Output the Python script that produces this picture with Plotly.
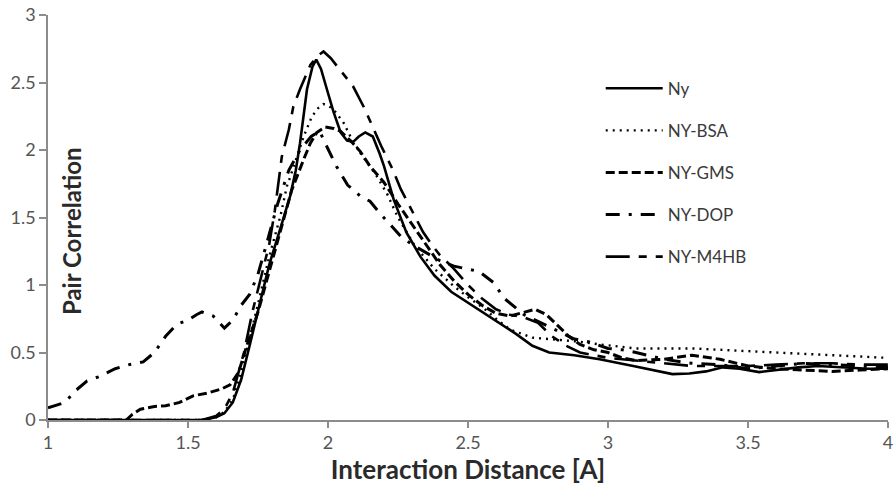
import plotly.graph_objects as go

# ---------------- data ----------------
ny_x = [1.0, 1.2, 1.4, 1.5, 1.55, 1.6, 1.63, 1.66, 1.69, 1.72, 1.76, 1.79, 1.83, 1.865, 1.885, 1.90,
        1.925, 1.945, 1.958, 1.975, 1.996, 2.02, 2.045, 2.068, 2.09, 2.11, 2.133, 2.16, 2.185, 2.20,
        2.235, 2.28, 2.33, 2.38, 2.44, 2.50, 2.55, 2.61, 2.67, 2.73, 2.79, 2.88, 2.97, 3.09, 3.16,
        3.23, 3.29, 3.35, 3.41, 3.47, 3.54, 3.6, 3.68, 3.75, 3.85, 3.93, 4.0]
ny_y = [0, 0, 0, 0, 0.0, 0.02, 0.05, 0.13, 0.30, 0.55, 0.88, 1.15, 1.42, 1.66, 1.85, 2.05,
        2.45, 2.62, 2.67, 2.60, 2.45, 2.28, 2.13, 2.07, 2.06, 2.10, 2.13, 2.10, 1.97, 1.88,
        1.63, 1.39, 1.21, 1.07, 0.95, 0.87, 0.80, 0.72, 0.64, 0.55, 0.50, 0.48, 0.45, 0.40, 0.37,
        0.34, 0.345, 0.36, 0.39, 0.38, 0.355, 0.37, 0.39, 0.40, 0.39, 0.38, 0.38]

bsa_x = [1.0, 1.2, 1.4, 1.55, 1.6, 1.63, 1.66, 1.69, 1.72, 1.764, 1.79, 1.83, 1.853, 1.865, 1.89,
         1.913, 1.943, 1.965, 1.984, 2.0, 2.02, 2.056, 2.08, 2.115, 2.17, 2.21, 2.25, 2.31, 2.38,
         2.45, 2.5, 2.555, 2.6, 2.65, 2.73, 2.83, 2.9, 2.97, 3.1, 3.2, 3.3, 3.4, 3.5, 3.6, 3.7,
         3.8, 3.9, 4.0]
bsa_y = [0, 0, 0, 0, 0.02, 0.06, 0.15, 0.35, 0.60, 0.97, 1.21, 1.51, 1.73, 1.80, 1.95,
         2.10, 2.25, 2.31, 2.34, 2.33, 2.30, 2.20, 2.10, 1.98, 1.82, 1.68, 1.50, 1.29, 1.12,
         0.99, 0.91, 0.83, 0.75, 0.67, 0.61, 0.59, 0.58, 0.56, 0.53, 0.53, 0.53, 0.52, 0.51, 0.50,
         0.49, 0.48, 0.47, 0.46]

gms_x = [1.0, 1.1, 1.2, 1.28, 1.30, 1.33, 1.38, 1.42, 1.47, 1.52, 1.57, 1.62, 1.65, 1.68, 1.71,
         1.75, 1.79, 1.83, 1.87, 1.913, 1.937, 1.96, 1.99, 2.02, 2.044, 2.08, 2.115, 2.15, 2.2,
         2.25, 2.3, 2.35, 2.4, 2.45, 2.5, 2.55, 2.6, 2.65, 2.7, 2.74, 2.78, 2.82, 2.86, 2.9, 2.95,
         3.0, 3.05, 3.1, 3.2, 3.3, 3.4, 3.5, 3.6, 3.7, 3.8, 3.9, 4.0]
gms_y = [0, 0, 0, 0, 0.04, 0.08, 0.10, 0.105, 0.13, 0.18, 0.20, 0.23, 0.26, 0.35, 0.55,
         0.80, 1.10, 1.40, 1.70, 1.93, 2.05, 2.13, 2.17, 2.16, 2.14, 2.07, 1.99, 1.88, 1.76,
         1.60, 1.45, 1.30, 1.15, 1.03, 0.93, 0.85, 0.79, 0.77, 0.80, 0.82, 0.78, 0.70, 0.62, 0.56, 0.52,
         0.50, 0.46, 0.44, 0.45, 0.48, 0.45, 0.40, 0.38, 0.37, 0.36, 0.37, 0.38]

dop_x = [1.0, 1.03, 1.06, 1.1, 1.14, 1.18, 1.24, 1.29, 1.34, 1.38, 1.42, 1.46, 1.50, 1.53, 1.55,
         1.59, 1.63, 1.66, 1.69, 1.72, 1.75, 1.78, 1.82, 1.86, 1.9, 1.94, 1.97, 1.99, 2.03, 2.07,
         2.115, 2.15, 2.19, 2.23, 2.26, 2.3, 2.35, 2.4, 2.45, 2.5, 2.54, 2.59, 2.63, 2.7, 2.76,
         2.82, 2.88, 2.93, 3.0, 3.05, 3.1, 3.2, 3.3, 3.4, 3.5, 3.6, 3.7, 3.8, 3.9, 4.0]
dop_y = [0.09, 0.11, 0.13, 0.22, 0.29, 0.32, 0.38, 0.41, 0.43, 0.50, 0.62, 0.71, 0.74, 0.78, 0.80,
         0.77, 0.68, 0.74, 0.85, 0.93, 1.08, 1.30, 1.60, 1.85, 2.00, 2.10, 2.14, 2.05, 1.88, 1.74,
         1.66, 1.62, 1.52, 1.43, 1.36, 1.30, 1.24, 1.18, 1.14, 1.12, 1.10, 1.02, 0.90, 0.78, 0.72,
         0.66, 0.60, 0.58, 0.53, 0.52, 0.50, 0.45, 0.42, 0.41, 0.38, 0.40, 0.42, 0.41, 0.40, 0.39]

m4hb_x = [1.0, 1.2, 1.4, 1.55, 1.6, 1.63, 1.66, 1.7, 1.73, 1.76, 1.79, 1.81, 1.82, 1.835, 1.86,
          1.876, 1.9, 1.937, 1.965, 1.984, 2.01, 2.044, 2.09, 2.13, 2.16, 2.19, 2.23, 2.26, 2.3,
          2.34, 2.37, 2.4, 2.45, 2.5, 2.55, 2.6, 2.65, 2.7, 2.75, 2.8, 2.85, 2.9, 3.0, 3.1, 3.2,
          3.3, 3.4, 3.5, 3.6, 3.7, 3.8, 3.9, 4.0]
m4hb_y = [0, 0, 0, 0, 0.03, 0.08, 0.20, 0.50, 0.80, 1.05, 1.30, 1.55, 1.70, 1.95, 2.15,
          2.32, 2.45, 2.63, 2.70, 2.73, 2.68, 2.59, 2.47, 2.31, 2.17, 2.03, 1.86, 1.71, 1.55,
          1.39, 1.30, 1.22, 1.12, 1.00, 0.90, 0.82, 0.78, 0.76, 0.72, 0.62, 0.55, 0.50, 0.46, 0.44, 0.42,
          0.40, 0.40, 0.40, 0.41, 0.42, 0.42, 0.41, 0.41]

series_names = ["Ny", "NY-BSA", "NY-GMS", "NY-DOP", "NY-M4HB"]
x_ticks = [1, 1.5, 2, 2.5, 3, 3.5, 4]
y_ticks = [0, 0.5, 1, 1.5, 2, 2.5, 3]

# ---------------- figure ----------------
styles = [
    dict(width=2.6, dash="solid"),
    dict(width=2.4, dash="2px,5px"),
    dict(width=3.0, dash="9px,4px"),
    dict(width=3.0, dash="14px,9px,3px,9px"),
    dict(width=2.6, dash="24px,9px,8px,9px"),
]
xs = [ny_x, bsa_x, gms_x, dop_x, m4hb_x]
ys = [ny_y, bsa_y, gms_y, dop_y, m4hb_y]

fig = go.Figure()
for i, name in enumerate(series_names):
    fig.add_trace(go.Scatter(
        x=xs[i], y=ys[i], mode="lines", name=name, legendgroup=name,
        line=dict(color="black", shape="linear", **styles[i]),
    ))

font_family = "Lato, 'Open Sans', sans-serif"
tick_color = "#555555"
fig.update_layout(
    width=895, height=488,
    margin=dict(l=48, r=7, t=15, b=68, autoexpand=False),
    paper_bgcolor="white", plot_bgcolor="white",
    font=dict(family=font_family, color="#333333"),
    showlegend=True,
    legend=dict(
        x=0.658, y=0.8625, xanchor="left", yanchor="top",
        font=dict(size=17, color="#3a3a3a", family=font_family),
        tracegroupgap=17, itemwidth=57, bgcolor="rgba(0,0,0,0)",
    ),
    xaxis=dict(
        range=[1, 4], tickvals=x_ticks, ticktext=[str(v) for v in x_ticks],
        showgrid=False, zeroline=False, showline=True, linecolor="#8c8c8c", linewidth=1.5,
        ticks="outside", ticklen=6, tickcolor="#8c8c8c", tickwidth=1.5,
        tickfont=dict(size=18, color=tick_color), automargin=False,
        ticklabeloverflow="allow",
        title=dict(text="<b>Interaction Distance [A]</b>", font=dict(size=26, color="#2a2a2a"), standoff=1),
    ),
    yaxis=dict(
        range=[0, 3], tickvals=y_ticks, ticktext=[str(v) for v in y_ticks],
        showgrid=False, zeroline=False, showline=True, linecolor="#8c8c8c", linewidth=1.5,
        ticks="outside", ticklen=7, tickcolor="#8c8c8c", tickwidth=1.5,
        tickfont=dict(size=18, color=tick_color), automargin=False,
        ticklabeloverflow="allow",
    ),
    annotations=[dict(
        text="<b>Pair Correlation</b>", xref="paper", yref="paper", x=0.0288, y=0.467,
        xanchor="center", yanchor="middle",
        textangle=-90, showarrow=False, font=dict(size=24, color="#2a2a2a"),
    )],
)

# remove the default page margin so the 895x488 figure fills the window exactly
fig.write_html(
    "out.html",
    config={"displayModeBar": False},
    post_script="document.body.style.margin='0';document.body.style.overflow='hidden';",
)
